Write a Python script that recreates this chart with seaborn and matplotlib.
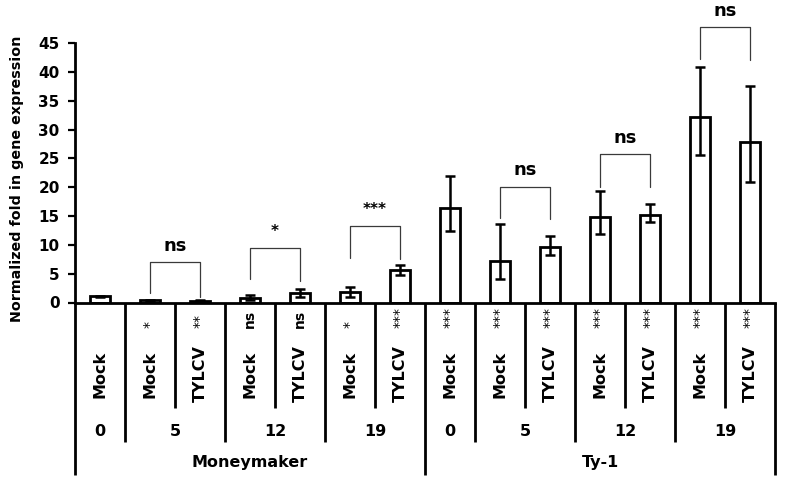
import matplotlib

matplotlib.use("Agg")
import matplotlib.pyplot as plt
import numpy as np
import pandas as pd
import seaborn as sns

# bars, left to right
cultivars = ["Moneymaker"] * 7 + ["Ty-1"] * 7
days = ["0", "5", "5", "12", "12", "19", "19", "0", "5", "5", "12", "12", "19", "19"]
treatments = ["Mock", "Mock", "TYLCV", "Mock", "TYLCV", "Mock", "TYLCV",
              "Mock", "Mock", "TYLCV", "Mock", "TYLCV", "Mock", "TYLCV"]
fold_change = [1.05, 0.35, 0.33, 0.85, 1.65, 1.85, 5.7,
               16.35, 7.25, 9.6, 14.9, 15.2, 32.1, 27.8]
err_low = [0.15, 0.08, 0.07, 0.4, 0.75, 0.85, 0.9,
           3.95, 3.2, 1.3, 3.1, 1.3, 6.5, 6.95]
err_high = [0.15, 0.08, 0.07, 0.45, 0.65, 0.85, 0.8,
            5.55, 6.3, 1.95, 4.45, 1.9, 8.7, 9.7]
# significance vs Moneymaker day 0, shown next to each treatment label
vs_control = ["", "*", "**", "ns", "ns", "*", "***",
              "***", "***", "***", "***", "***", "***", "***"]

# Mock vs TYLCV brackets: (left bar, right bar, top, left leg end, right leg end, label)
bracket_left = [1, 3, 5, 8, 10, 12]
bracket_right = [2, 4, 6, 9, 11, 13]
bracket_top = [6.97, 9.5, 13.3, 20.1, 25.75, 47.8]
bracket_leg_left = [1.6, 4.0, 7.8, 14.65, 20.1, 42.2]
bracket_leg_right = [1.0, 3.8, 7.5, 14.5, 20.0, 42.0]
bracket_label = ["ns", "*", "***", "ns", "ns", "ns"]

df = pd.DataFrame({
    "cond": [f"{c} {d} {t}" for c, d, t in zip(cultivars, days, treatments)],
    "value": fold_change,
})

sns.set_theme(style="white")
plt.rcParams["font.family"] = ["DejaVu Sans"]
for key in ["text.color", "axes.labelcolor", "xtick.color", "ytick.color", "axes.edgecolor"]:
    plt.rcParams[key] = "black"

W, H = 785, 483
fig = plt.figure(figsize=(W / 100, H / 100), dpi=100)
ax_left, ax_right, ax_top, ax_bottom = 75, 775, 43, 302.5
ax = fig.add_axes([ax_left / W, 1 - ax_bottom / H, (ax_right - ax_left) / W, (ax_bottom - ax_top) / H])


def frac(py):
    # pixel row in the figure -> axes fraction
    return (ax_bottom - py) / (ax_bottom - ax_top)


sns.barplot(data=df, x="cond", y="value", order=list(df["cond"]), color="white",
            saturation=1, edgecolor="black", linewidth=2, width=0.4,
            errorbar=None, ax=ax)
xpos = np.arange(len(df))
ax.errorbar(xpos, fold_change, yerr=[err_low, err_high], fmt="none",
            ecolor="black", elinewidth=1.8, capsize=3.5, capthick=1.8, zorder=3)

ax.set_xlim(-0.5, len(df) - 0.5)
ax.set_ylim(0, 45)
ax.set_yticks(range(0, 46, 5))
ax.tick_params(axis="y", direction="out", length=5, width=1.6, pad=6,
               labelsize=11, left=True)
for lab in ax.get_yticklabels():
    lab.set_fontweight("bold")
ax.tick_params(axis="x", bottom=False, labelbottom=False)
ax.set_xlabel("")
ax.set_ylabel("Normalized fold in gene expression", fontsize=10.3, fontweight="bold")
ax.yaxis.set_label_coords(-0.073, 0.478)
for side in ["top", "right"]:
    ax.spines[side].set_visible(False)
for side in ["left", "bottom"]:
    ax.spines[side].set_linewidth(2)

# comparison brackets
for i, j, top, yl, yr, lab in zip(bracket_left, bracket_right, bracket_top,
                                  bracket_leg_left, bracket_leg_right, bracket_label):
    ax.plot([i, i, j, j], [yl, top, top, yr], color="#3a3a3a", lw=0.9, clip_on=False)
    ax.text((i + j) / 2, top + 2.8, lab, ha="center", va="center",
            fontsize=13 if lab == "ns" else 11, fontweight="bold", clip_on=False)

# multi-level category axis
xt = ax.get_xaxis_transform()
for k, (t, s) in enumerate(zip(treatments, vs_control)):
    ax.text(k, frac(374), t, rotation=90, ha="center", va="center",
            fontsize=11.5, fontweight="bold", transform=xt)
    if s:
        ax.text(k, frac(328), s, rotation=90, ha="center", va="bottom",
                fontsize=10, fontweight="bold" if s == "ns" else "normal", transform=xt)

n = len(df)
for k in range(n + 1):
    b = k - 0.5
    if k in (0, n) or cultivars[k - 1] != cultivars[k]:
        y_end = 475
    elif days[k - 1] != days[k]:
        y_end = 442
    else:
        y_end = 408
    ax.plot([b, b], [0, frac(y_end)], color="black", lw=2, transform=xt,
            clip_on=False, solid_capstyle="butt")

# day labels, centred on each day group
groups = []
for k in range(n):
    key = (cultivars[k], days[k])
    if groups and groups[-1][0] == key:
        groups[-1][1].append(k)
    else:
        groups.append((key, [k]))
for (cv, d), idx in groups:
    ax.text(np.mean(idx), frac(432), d, ha="center", va="center",
            fontsize=11.5, fontweight="bold", transform=xt)
for cv in ["Moneymaker", "Ty-1"]:
    idx = [k for k in range(n) if cultivars[k] == cv]
    ax.text(np.mean(idx), frac(463), cv, ha="center", va="center",
            fontsize=11.5, fontweight="bold", transform=xt)

fig.savefig("out.png", dpi=100)
